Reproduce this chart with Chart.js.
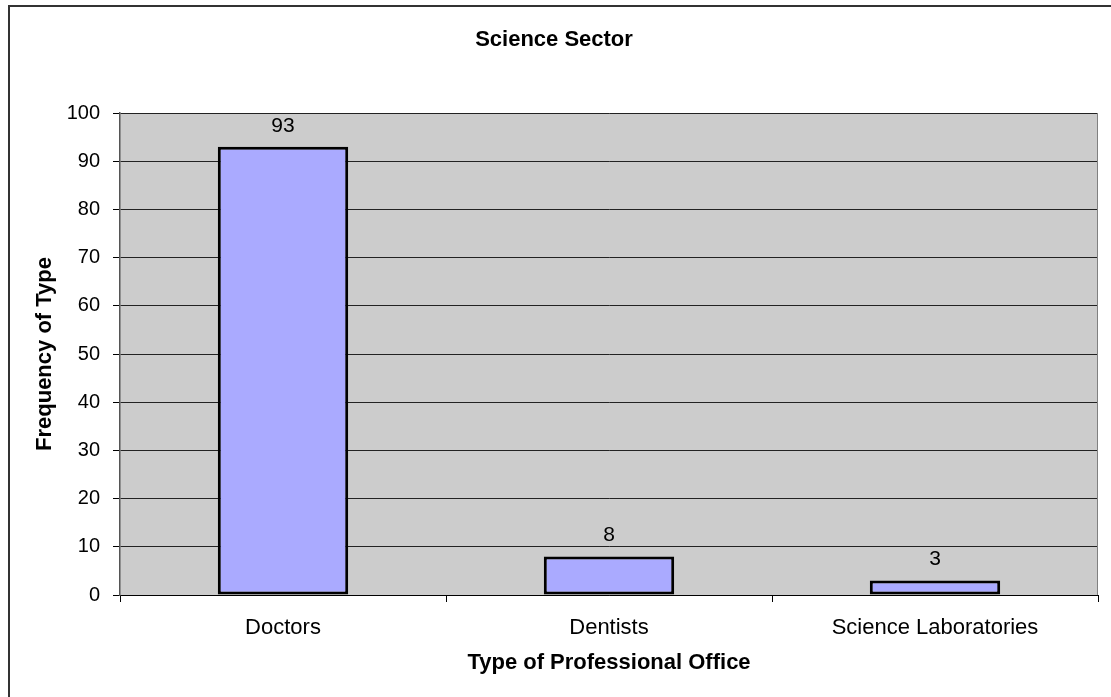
<!DOCTYPE html>
<html>
<head>
<meta charset="utf-8">
<script src="https://cdn.jsdelivr.net/npm/chart.js@4.4.0/dist/chart.umd.min.js"></script>
<style>
    html, body { margin: 0; padding: 0; background: #fff; }
    #wrap { width: 1111px; height: 697px; }
</style>
</head>
<body>
<div id="wrap"><canvas id="scienceChart"></canvas></div>
<script>
let categories = ["Doctors", "Dentists", "Science Laboratories"];
let frequencies = [93, 8, 3];
let yTicks = [0, 10, 20, 30, 40, 50, 60, 70, 80, 90, 100];

// gray plot area, its border and the outer frame
var frameBackground = {
    id: 'frameBackground',
    beforeDraw: function (chart) {
        var ctx = chart.ctx;
        var a = chart.chartArea;
        ctx.save();
        ctx.fillStyle = '#cccccc';
        ctx.fillRect(a.left, a.top, a.right - a.left, a.bottom - a.top);
        ctx.strokeStyle = '#333333';
        ctx.lineWidth = 2;
        ctx.strokeRect(9, 6, 1120, 710);
        ctx.restore();
    },
    afterDraw: function (chart) {
        var ctx = chart.ctx;
        var a = chart.chartArea;
        ctx.save();
        ctx.strokeStyle = '#808080';
        ctx.lineWidth = 1;
        ctx.beginPath();
        ctx.moveTo(a.right - 0.5, a.top);
        ctx.lineTo(a.right - 0.5, a.bottom);
        ctx.stroke();
        ctx.restore();
    }
};

// value labels above bars
var barValues = {
    id: 'barValues',
    afterDatasetsDraw: function (chart) {
        var ctx = chart.ctx;
        var meta = chart.getDatasetMeta(0);
        ctx.save();
        ctx.font = '21px "Liberation Sans", Arial, sans-serif';
        ctx.fillStyle = '#000';
        ctx.textAlign = 'center';
        ctx.textBaseline = 'middle';
        meta.data.forEach(function (bar, i) {
            ctx.fillText(String(frequencies[i]), bar.x, bar.y - 21);
        });
        ctx.restore();
    }
};

new Chart(document.getElementById('scienceChart'), {
    type: 'bar',
    data: {
        labels: categories,
        datasets: [{
            data: frequencies,
            backgroundColor: '#aaaaff',
            borderColor: '#000000',
            borderWidth: 3,
            borderSkipped: false,
            barPercentage: 0.4,
            categoryPercentage: 1.0
        }]
    },
    options: {
        responsive: true,
        maintainAspectRatio: false,
        animation: false,
        layout: { padding: { left: 10, right: 13, top: 5, bottom: 10 } },
        plugins: {
            legend: { display: false },
            tooltip: { enabled: false },
            title: {
                display: true,
                text: 'Science Sector',
                color: '#000',
                font: { family: '"Liberation Sans", Arial, sans-serif', size: 22, weight: 'bold' },
                padding: { top: 22, bottom: 59.6 }
            }
        },
        scales: {
            x: {
                afterFit: function (scale) { scale.height = 92; },
                grid: {
                    display: true,
                    drawOnChartArea: false,
                    offset: true,
                    tickLength: 7,
                    color: '#000',
                    tickColor: '#000'
                },
                border: { display: true, color: '#000', width: 1 },
                ticks: {
                    color: '#000',
                    padding: 12.8,
                    maxRotation: 0,
                    font: { family: '"Liberation Sans", Arial, sans-serif', size: 22 }
                },
                title: {
                    display: true,
                    text: 'Type of Professional Office',
                    color: '#000',
                    font: { family: '"Liberation Sans", Arial, sans-serif', size: 22, weight: 'bold' },
                    padding: { top: 0, bottom: 10.8 }
                }
            },
            y: {
                min: 0,
                max: 100,
                afterFit: function (scale) { scale.width = 110; },
                afterBuildTicks: function (scale) {
                    scale.ticks = yTicks.map(function (v) { return { value: v }; });
                },
                grid: {
                    color: '#222',
                    tickColor: '#000',
                    tickLength: 7,
                    lineWidth: 1
                },
                border: { display: true, color: '#555', width: 1.5 },
                ticks: {
                    color: '#000',
                    padding: 13,
                    font: { family: '"Liberation Sans", Arial, sans-serif', size: 20 }
                },
                title: {
                    display: true,
                    text: 'Frequency of Type',
                    color: '#000',
                    font: { family: '"Liberation Sans", Arial, sans-serif', size: 22, weight: 'bold' },
                    padding: { top: 21.8, bottom: 0 }
                }
            }
        }
    },
    plugins: [frameBackground, barValues]
});
</script>
</body>
</html>
